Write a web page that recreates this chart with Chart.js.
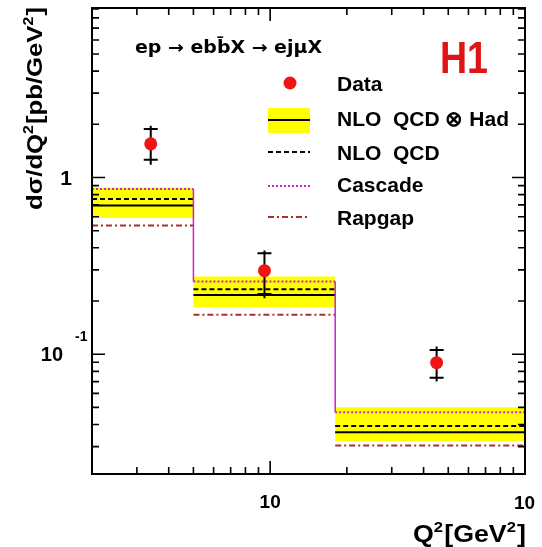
<!DOCTYPE html>
<html>
<head>
<meta charset="utf-8">
<script src="https://cdn.jsdelivr.net/npm/chart.js@4.4.1/dist/chart.umd.min.js"></script>
<style>
  html, body { margin: 0; padding: 0; background: #ffffff; }
  #wrap { width: 542px; height: 547px; }
</style>
</head>
<body>
<div id="wrap"><canvas id="c" width="542" height="547"></canvas></div>
<script>
// Q^2 bin edges [GeV^2]
const binEdges = [2, 5, 18, 100];

// measured cross section dsigma/dQ^2 [pb/GeV^2]
const dataQ2 = [3.4, 9.5, 45];
const dataXsec = [1.55, 0.297, 0.0896];
const statErrUp = [0.33, 0.076, 0.016];
const statErrDown = [0.29, 0.078, 0.016];
const totErrUp = [0.41, 0.089, 0.021];
const totErrDown = [0.37, 0.0895, 0.0196];

// theory predictions per bin
const nloHad = [0.694, 0.216, 0.0362];
const nloHadHigh = [0.878, 0.275, 0.0501];
const nloHadLow = [0.589, 0.185, 0.0323];
const nloQcd = [0.755, 0.233, 0.0393];
const cascade = [0.860, 0.258, 0.0469];
const rapgap = [0.535, 0.167, 0.0304];

// axis ticks
const xMajorTicks = [10, 100];
const xMinorTicks = [3, 4, 5, 6, 7, 8, 9, 20, 30, 40, 50, 60, 70, 80, 90];
const yMajorTicks = [0.1, 1];
const yMinorTicks = [0.03, 0.04, 0.05, 0.06, 0.07, 0.08, 0.09,
                     0.2, 0.3, 0.4, 0.5, 0.6, 0.7, 0.8, 0.9,
                     2, 3, 4, 5, 6, 7, 8, 9];

const legendLabels = ['Data', 'NLO  QCD \u2297 Had', 'NLO  QCD', 'Cascade', 'Rapgap'];

const FONT = '"Liberation Sans", Arial, Helvetica, sans-serif';
const WIDE_FONT = '"DejaVu Sans", "Liberation Sans", sans-serif';
const YELLOW = '#ffff00';
const DATA_RED = '#ee1515';
const CASCADE_COL = '#cc22cc';
const RAPGAP_COL = '#a83030';

// histogram outline: two points per bin so every step is explicit
function histPoints(vals) {
  const pts = [];
  vals.forEach((v, i) => {
    pts.push({ x: binEdges[i], y: v });
    pts.push({ x: binEdges[i + 1], y: v });
  });
  return pts;
}
const isVertical = c => c.p0.parsed.x === c.p1.parsed.x;

// text with superscripts: parts = [[text, isSup], ...]
function richWidth(ctx, parts, size) {
  let w = 0;
  parts.forEach(([t, sup]) => {
    ctx.font = 'bold ' + (sup ? size * 0.62 : size) + 'px ' + FONT;
    w += ctx.measureText(t).width + (sup ? 1 : 0);
  });
  return w;
}
// draws the parts starting at (0,0) of the current transform, stretched to `width`
function drawRich(ctx, parts, size, width) {
  const s = width / richWidth(ctx, parts, size);
  ctx.save();
  ctx.scale(s, 1);
  ctx.textAlign = 'left';
  ctx.textBaseline = 'alphabetic';
  let cx = 0;
  parts.forEach(([t, sup]) => {
    const fs = sup ? size * 0.62 : size;
    ctx.font = 'bold ' + fs + 'px ' + FONT;
    ctx.fillText(t, cx, sup ? -size * 0.42 : 0);
    cx += ctx.measureText(t).width + (sup ? 1 : 0);
  });
  ctx.restore();
}
function drawStretched(ctx, text, font, x, y, width) {
  ctx.save();
  ctx.font = font;
  const s = width / ctx.measureText(text).width;
  ctx.translate(x, y);
  ctx.scale(s, 1);
  ctx.textAlign = 'left';
  ctx.fillText(text, 0, 0);
  ctx.restore();
}

const frameAndLabels = {
  id: 'frameAndLabels',
  beforeDatasetDraw(chart, args) {
    const ds = chart.data.datasets[args.index];
    if (ds.id !== 'data') return;
    const ctx = chart.ctx;
    const xs = chart.scales.x, ys = chart.scales.y;
    ctx.save();
    ctx.strokeStyle = '#000';
    ctx.lineWidth = 2;
    dataQ2.forEach((q, i) => {
      const px = xs.getPixelForValue(q);
      const yTop = ys.getPixelForValue(dataXsec[i] + totErrUp[i]);
      const yBot = ys.getPixelForValue(dataXsec[i] - totErrDown[i]);
      const sTop = ys.getPixelForValue(dataXsec[i] + statErrUp[i]);
      const sBot = ys.getPixelForValue(dataXsec[i] - statErrDown[i]);
      ctx.beginPath();
      ctx.moveTo(px, yTop); ctx.lineTo(px, yBot);
      ctx.moveTo(px - 7, sTop); ctx.lineTo(px + 7, sTop);
      ctx.moveTo(px - 7, sBot); ctx.lineTo(px + 7, sBot);
      ctx.stroke();
    });
    ctx.restore();
  },
  afterDraw(chart) {
    const ctx = chart.ctx;
    const a = chart.chartArea;
    const xs = chart.scales.x, ys = chart.scales.y;
    ctx.save();
    ctx.fillStyle = '#000';
    ctx.strokeStyle = '#000';

    // frame
    ctx.lineWidth = 2;
    ctx.strokeRect(a.left, a.top, a.right - a.left, a.bottom - a.top);

    // ticks on all four sides, pointing inwards
    ctx.lineWidth = 1.6;
    ctx.beginPath();
    const xt = (v, len) => {
      const p = xs.getPixelForValue(v);
      ctx.moveTo(p, a.bottom); ctx.lineTo(p, a.bottom - len);
      ctx.moveTo(p, a.top); ctx.lineTo(p, a.top + len);
    };
    const yt = (v, len) => {
      const p = ys.getPixelForValue(v);
      ctx.moveTo(a.left, p); ctx.lineTo(a.left + len, p);
      ctx.moveTo(a.right, p); ctx.lineTo(a.right - len, p);
    };
    xMajorTicks.forEach(v => xt(v, 13));
    xMinorTicks.forEach(v => xt(v, 7));
    yMajorTicks.forEach(v => yt(v, 13));
    yMinorTicks.forEach(v => yt(v, 7));
    ctx.stroke();

    // tick labels
    ctx.textBaseline = 'middle';
    ctx.textAlign = 'right';
    ctx.font = 'bold 21px ' + FONT;
    ctx.fillText('1', 72, ys.getPixelForValue(1) + 2);
    ctx.font = 'bold 20px ' + FONT;
    ctx.fillText('10', 63, ys.getPixelForValue(0.1) + 1);
    ctx.font = 'bold 14px ' + FONT;
    ctx.textAlign = 'left';
    ctx.fillText('-1', 75, ys.getPixelForValue(0.1) - 17);

    ctx.font = 'bold 19px ' + FONT;
    ctx.textAlign = 'center';
    ctx.fillText('10', xs.getPixelForValue(10), 503);
    ctx.textAlign = 'left';
    ctx.fillText('10', 514, 504);

    // axis titles
    const xTitle = [['Q', false], ['2', true], ['[GeV', false], ['2', true], [']', false]];
    ctx.save();
    ctx.translate(413, 542);
    drawRich(ctx, xTitle, 23, 113);
    ctx.restore();

    const yTitle = [['d\u03c3/dQ', false], ['2', true], ['[pb/GeV', false], ['2', true], [']', false]];
    ctx.save();
    ctx.translate(42, 210);
    ctx.rotate(-Math.PI / 2);
    drawRich(ctx, yTitle, 22.5, 203);
    ctx.restore();

    // process label
    ctx.textBaseline = 'middle';
    drawStretched(ctx, 'ep \u2192 ebb\u0304X \u2192 ej\u03bcX', 'bold 17px ' + WIDE_FONT, 135, 49, 187);

    // experiment label
    ctx.fillStyle = '#e01414';
    ctx.textBaseline = 'alphabetic';
    drawStretched(ctx, 'H1', 'bold 44px ' + FONT, 440, 73, 48);

    // legend
    const lx0 = 268, lx1 = 310, tx = 337;
    const rows = [85, 120, 154, 186, 219];
    ctx.fillStyle = DATA_RED;
    ctx.beginPath();
    ctx.arc(290, 83, 6.5, 0, Math.PI * 2);
    ctx.fill();

    ctx.fillStyle = YELLOW;
    ctx.fillRect(lx0, 108, lx1 - lx0, 25);
    ctx.lineWidth = 2;
    ctx.strokeStyle = '#000';
    ctx.setLineDash([]);
    ctx.beginPath(); ctx.moveTo(lx0, 120); ctx.lineTo(lx1, 120); ctx.stroke();

    ctx.setLineDash([5, 3]);
    ctx.beginPath(); ctx.moveTo(lx0, 152); ctx.lineTo(lx1, 152); ctx.stroke();

    ctx.strokeStyle = CASCADE_COL;
    ctx.lineWidth = 2;
    ctx.setLineDash([2, 2]);
    ctx.beginPath(); ctx.moveTo(lx0, 186); ctx.lineTo(lx1, 186); ctx.stroke();

    ctx.strokeStyle = RAPGAP_COL;
    ctx.setLineDash([6, 3, 2, 3]);
    ctx.beginPath(); ctx.moveTo(lx0, 217); ctx.lineTo(lx1, 217); ctx.stroke();
    ctx.setLineDash([]);

    ctx.fillStyle = '#000';
    ctx.font = 'bold 21px ' + FONT;
    ctx.textBaseline = 'middle';
    ctx.textAlign = 'left';
    legendLabels.forEach((t, i) => ctx.fillText(t, tx, rows[i]));

    ctx.restore();
  }
};

const cfg = {
  type: 'line',
  data: {
    datasets: [
      {
        id: 'data', data: dataQ2.map((q, i) => ({ x: q, y: dataXsec[i] })),
        showLine: false, pointRadius: 6.5, pointHoverRadius: 6.5,
        pointBackgroundColor: DATA_RED, pointBorderWidth: 0, order: 0
      },
      {
        id: 'cascade', data: histPoints(cascade), borderColor: CASCADE_COL, borderWidth: 2,
        pointRadius: 0, fill: false, order: 1,
        segment: {
          borderDash: c => isVertical(c) ? [] : [2, 2],
          borderWidth: c => isVertical(c) ? 1.5 : 2
        }
      },
      {
        id: 'rapgap', data: histPoints(rapgap), borderColor: RAPGAP_COL, borderWidth: 2,
        pointRadius: 0, fill: false, order: 2, borderDash: [6, 3, 2, 3],
        segment: { borderColor: c => isVertical(c) ? 'rgba(0,0,0,0)' : RAPGAP_COL }
      },
      {
        id: 'nlo', data: histPoints(nloQcd), borderColor: '#000', borderWidth: 2,
        pointRadius: 0, fill: false, order: 3, borderDash: [5, 3],
        segment: { borderColor: c => isVertical(c) ? 'rgba(0,0,0,0)' : '#000' }
      },
      {
        id: 'nloHad', data: histPoints(nloHad), borderColor: '#000', borderWidth: 2,
        pointRadius: 0, fill: false, order: 4,
        segment: { borderColor: c => isVertical(c) ? 'rgba(0,0,0,0)' : '#000' }
      },
      {
        id: 'bandHigh', data: histPoints(nloHadHigh), borderWidth: 0, borderColor: 'rgba(0,0,0,0)',
        pointRadius: 0, fill: false, order: 11
      },
      {
        id: 'bandLow', data: histPoints(nloHadLow), borderWidth: 0, borderColor: 'rgba(0,0,0,0)',
        pointRadius: 0, fill: '-1', backgroundColor: YELLOW, order: 10
      }
    ]
  },
  options: {
    responsive: false,
    animation: false,
    devicePixelRatio: 1,
    layout: { padding: { left: 92, right: 17, top: 8, bottom: 73 } },
    scales: {
      x: { type: 'logarithmic', min: 2, max: 100, display: false },
      y: { type: 'logarithmic', min: 0.021, max: 9.1, display: false }
    },
    plugins: {
      legend: { display: false },
      tooltip: { enabled: false },
      filler: { propagate: false }
    },
    elements: { line: { tension: 0 } }
  },
  plugins: [frameAndLabels]
};

new Chart(document.getElementById('c'), cfg);
</script>
</body>
</html>
